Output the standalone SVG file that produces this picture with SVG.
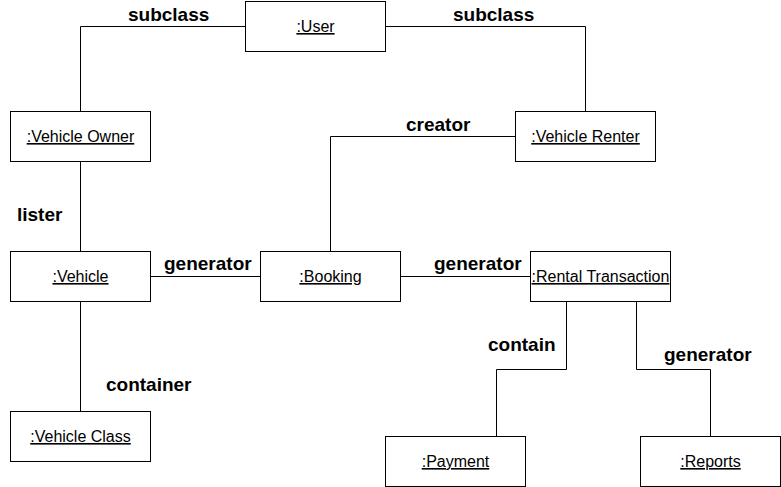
<svg xmlns="http://www.w3.org/2000/svg" width="781" height="487" viewBox="0 0 781 487">
<style>
.box{fill:#fff;stroke:#000;stroke-width:1}
.nt{font-family:"Liberation Sans",Arial,sans-serif;font-size:16px;text-anchor:middle;text-decoration:underline;fill:#000}
.lbl{font-family:"Liberation Sans",Arial,sans-serif;font-size:19px;font-weight:bold;fill:#000}
.ln{fill:none;stroke:#000;stroke-width:1}
</style>
<rect width="781" height="487" fill="#fff"/>
<g id="connectors">
<path class="ln" d="M245.5,26.5 H80.5 V111.5"/>
<path class="ln" d="M385.5,26.5 H585.5 V111.5"/>
<path class="ln" d="M515.5,136.5 H330.5 V251.5"/>
<path class="ln" d="M80.5,161.5 V251.5"/>
<path class="ln" d="M150.5,276.5 H260.5"/>
<path class="ln" d="M400.5,276.5 H530.5"/>
<path class="ln" d="M80.5,301.5 V411.5"/>
<path class="ln" d="M566.5,301.5 V369.5 H496.5 V436.5"/>
<path class="ln" d="M636.5,301.5 V369.5 H710.5 V436.5"/>
<text class="lbl" x="128" y="21">subclass</text>
<text class="lbl" x="453" y="21">subclass</text>
<text class="lbl" x="406" y="131">creator</text>
<text class="lbl" x="17" y="221">lister</text>
<text class="lbl" x="164" y="270">generator</text>
<text class="lbl" x="434" y="270">generator</text>
<text class="lbl" x="106" y="391">container</text>
<text class="lbl" x="488" y="351">contain</text>
<text class="lbl" x="664" y="361">generator</text>
</g>
<g id="user"><rect class="box" x="245.5" y="1.5" width="140" height="50"/><text class="nt" x="315.5" y="32">:User</text></g>
<g id="vehicle-owner"><rect class="box" x="10.5" y="111.5" width="140" height="50"/><text class="nt" x="80.5" y="142">:Vehicle Owner</text></g>
<g id="vehicle-renter"><rect class="box" x="515.5" y="111.5" width="140" height="50"/><text class="nt" x="585.5" y="142">:Vehicle Renter</text></g>
<g id="vehicle"><rect class="box" x="10.5" y="251.5" width="140" height="50"/><text class="nt" x="80.5" y="282">:Vehicle</text></g>
<g id="booking"><rect class="box" x="260.5" y="251.5" width="140" height="50"/><text class="nt" x="330.5" y="282">:Booking</text></g>
<g id="rental-transaction"><rect class="box" x="530.5" y="251.5" width="140" height="50"/><text class="nt" x="600.5" y="282">:Rental Transaction</text></g>
<g id="vehicle-class"><rect class="box" x="10.5" y="411.5" width="140" height="50"/><text class="nt" x="80.5" y="442">:Vehicle Class</text></g>
<g id="payment"><rect class="box" x="385.5" y="436.5" width="140" height="50"/><text class="nt" x="455.5" y="467">:Payment</text></g>
<g id="reports"><rect class="box" x="640.5" y="436.5" width="140" height="50"/><text class="nt" x="710.5" y="467">:Reports</text></g>
</svg>
